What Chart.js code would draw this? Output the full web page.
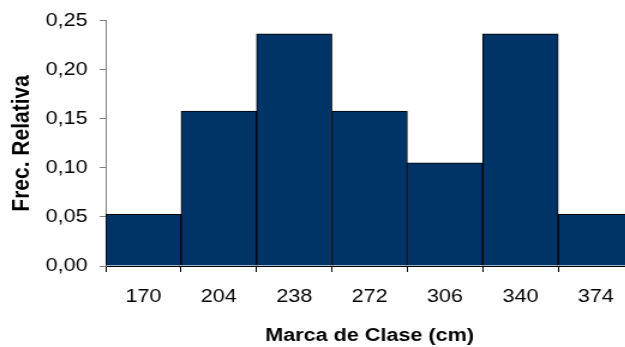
<!DOCTYPE html>
<html>
<head>
<meta charset="utf-8">
<script src="https://cdn.jsdelivr.net/npm/chart.js@4/dist/chart.umd.min.js"></script>
<style>
  html, body { margin: 0; padding: 0; background: #fff; overflow: hidden; width: 625px; height: 347px; }
  /* the chart is drawn narrower and widened horizontally, like the stretched original */
  #wrap { position: absolute; left: 0; top: 0; width: 528px; height: 347px;
          transform: scaleX(1.2); transform-origin: 0 0; }
</style>
</head>
<body>
<div id="wrap"><canvas id="c"></canvas></div>
<script>
// Class marks (cm) and relative frequencies (n = 38)
const classMarks = ['170', '204', '238', '272', '306', '340', '374'];
const relFreq = [2/38, 6/38, 9/38, 6/38, 4/38, 9/38, 2/38];
const yTicks = [0, 0.05, 0.10, 0.15, 0.20, 0.25];

const FONT = "'Liberation Sans', Arial, sans-serif";

new Chart(document.getElementById('c'), {
  type: 'bar',
  data: {
    labels: classMarks,
    datasets: [{
      data: relFreq,
      backgroundColor: '#003366',
      borderColor: '#000000',
      borderWidth: 1,
      categoryPercentage: 1.0,
      barPercentage: 1.0
    }]
  },
  options: {
    responsive: true,
    maintainAspectRatio: false,
    animation: false,
    devicePixelRatio: 1,
    layout: { padding: { top: 20, right: 0, bottom: 0, left: 0 } },
    plugins: { legend: { display: false }, tooltip: { enabled: false } },
    scales: {
      x: {
        offset: true,
        grid: { display: true, offset: true, drawOnChartArea: false, tickLength: 6, color: '#000' },
        border: { display: true, color: '#000', width: 1 },
        ticks: { color: '#000', font: { family: FONT, size: 18 }, padding: 14, maxRotation: 0 },
        title: { display: true, text: 'Marca de Clase (cm)', color: '#000',
                 font: { family: FONT, size: 18, weight: 'bold' }, padding: { top: 3.6, bottom: 0.2 } }
      },
      y: {
        min: 0, max: 0.25,
        afterBuildTicks: (s) => { s.ticks = yTicks.map(v => ({ value: v })); },
        afterFit: (s) => { s.width = 88; },
        grid: { display: true, drawOnChartArea: false, tickLength: 5, color: '#808080' },
        border: { display: true, color: '#808080', width: 1 },
        ticks: { color: '#000', font: { family: FONT, size: 18 }, padding: 10,
                 callback: (v) => Number(v).toFixed(2).replace('.', ',') },
        title: { display: true, text: 'Frec. Relativa', color: '#000',
                 font: { family: FONT, size: 21, weight: 'bold' }, padding: { top: 5.7, bottom: 0 } }
      }
    }
  }
});
</script>
</body>
</html>
